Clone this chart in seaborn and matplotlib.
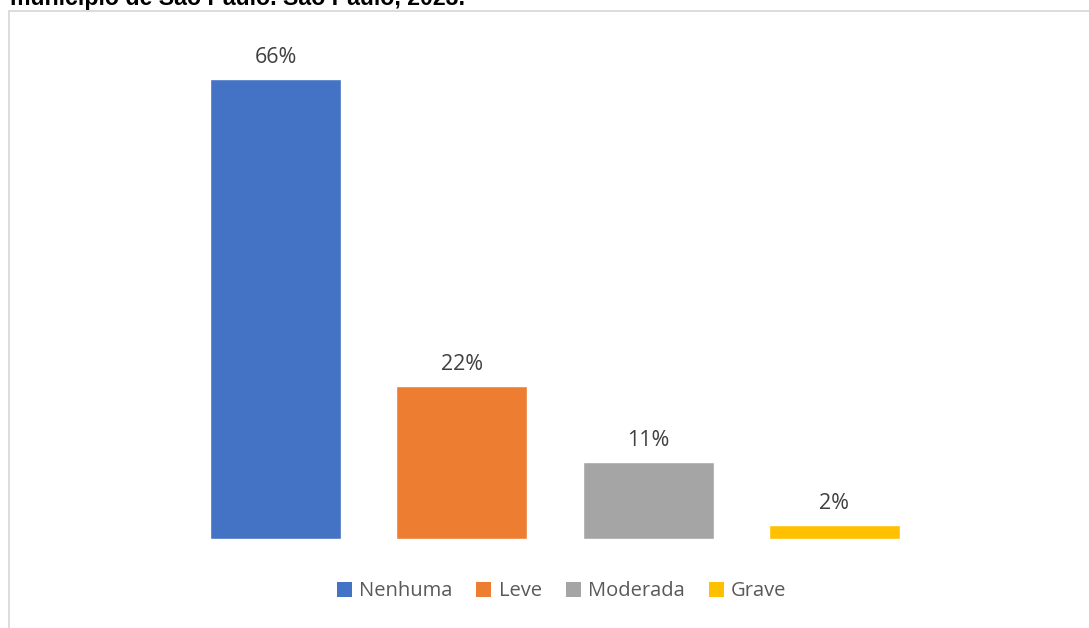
"""Grau de dependência - bar chart (município de São Paulo, 2023)."""

import matplotlib
matplotlib.use("Agg")
import matplotlib.pyplot as plt
import pandas as pd
import seaborn as sns
from matplotlib.patches import Rectangle

categories = ["Nenhuma", "Leve", "Moderada", "Grave"]
values = [66, 22, 11, 2]
labels = ["66%", "22%", "11%", "2%"]
colors = ["#4472C4", "#ED7D31", "#A5A5A5", "#FFC000"]

title_text = "município de São Paulo. São Paulo, 2023."

W, H = 1089, 628


def main() -> None:
    sns.set_theme(style="white")
    plt.rcParams["font.family"] = ["Open Sans", "DejaVu Sans"]

    df = pd.DataFrame({"categoria": categories, "valor": values})

    fig = plt.figure(figsize=(W / 100, H / 100), dpi=100)
    fig.patch.set_facecolor("white")

    # chart frame (partially cropped on the right/bottom)
    fig.patches.append(Rectangle((8.5 / W, -0.05), 1.2, 1 - 10.5 / H + 0.05,
                                 transform=fig.transFigure, fill=False,
                                 edgecolor="#D9D9D9", linewidth=1.3))

    # title, cut off at the top of the image as in the source
    fig.text(10 / W, 1 - 5.5 / H, title_text, fontsize=16.7, fontweight="bold",
             family=["Liberation Sans", "DejaVu Sans"], color="#000000",
             ha="left", va="baseline")

    ax = fig.add_axes([182.5 / W, (H - 539) / H, 745 / W, 486 / H])
    sns.barplot(data=df, x="categoria", y="valor", hue="categoria",
                palette=colors, width=0.704, saturation=1, legend=False, ax=ax)
    ax.set_ylim(0, 69.8)
    ax.set_xlim(-0.5, 3.5)
    for cont, lab in zip(ax.containers, labels):
        ax.bar_label(cont, labels=[lab], padding=8, fontsize=15.5, color="#404040")

    ax.set_axis_off()

    handles = [Rectangle((0, 0), 1, 1, facecolor=c, edgecolor="none") for c in colors]
    fig.legend(handles, categories, loc="center", ncol=4,
               bbox_to_anchor=(561.5 / W, 1 - 591.5 / H), frameon=False,
               fontsize=14.5, labelcolor="#595959", handlelength=0.75,
               handleheight=0.75, handletextpad=0.35, columnspacing=1.2)

    fig.savefig("out.png", dpi=100)
    plt.close(fig)


if __name__ == "__main__":
    main()
